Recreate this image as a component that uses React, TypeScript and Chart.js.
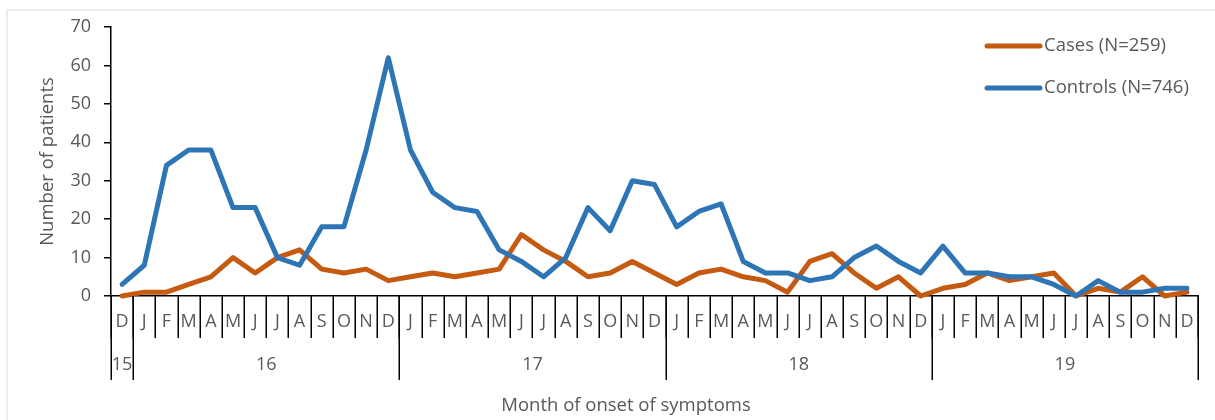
import React, { useEffect, useRef } from 'react';
import { Chart, registerables } from 'chart.js';

Chart.register(...registerables);

const monthLabels = [
  'D',
  'J', 'F', 'M', 'A', 'M', 'J', 'J', 'A', 'S', 'O', 'N', 'D',
  'J', 'F', 'M', 'A', 'M', 'J', 'J', 'A', 'S', 'O', 'N', 'D',
  'J', 'F', 'M', 'A', 'M', 'J', 'J', 'A', 'S', 'O', 'N', 'D',
  'J', 'F', 'M', 'A', 'M', 'J', 'J', 'A', 'S', 'O', 'N', 'D',
];

const yearLabels = ['15', '16', '17', '18', '19'];
const yearMonthCounts = [1, 12, 12, 12, 12];

const casesValues = [
  0,
  1, 1, 3, 5, 10, 6, 10, 12, 7, 6, 7, 4,
  5, 6, 5, 6, 7, 16, 12, 9, 5, 6, 9, 6,
  3, 6, 7, 5, 4, 1, 9, 11, 6, 2, 5, 0,
  2, 3, 6, 4, 5, 6, 0, 2, 1, 5, 0, 1,
];

const controlsValues = [
  3,
  8, 34, 38, 38, 23, 23, 10, 8, 18, 18, 38, 62,
  38, 27, 23, 22, 12, 9, 5, 10, 23, 17, 30, 29,
  18, 22, 24, 9, 6, 6, 4, 5, 10, 13, 9, 6,
  13, 6, 6, 5, 5, 3, 0, 4, 1, 1, 2, 2,
];

const seriesNames = ['Cases (N=259)', 'Controls (N=746)'];
const seriesColors = ['#C55A11', '#2E75B6'];

const FONT = '"Open Sans", "Noto Sans", sans-serif';
const TEXT_COLOR = '#595959';

const decorPlugin = {
  id: 'decor',
  beforeDraw(chart: any) {
    const ctx = chart.ctx;
    ctx.save();
    ctx.fillStyle = '#ffffff';
    ctx.fillRect(0, 0, chart.width, chart.height);
    ctx.strokeStyle = '#ececec';
    ctx.lineWidth = 2;
    ctx.strokeRect(7, 10, chart.width + 20, chart.height + 20);
    ctx.restore();
  },
  afterDraw(chart: any) {
    const ctx = chart.ctx;
    const xa = chart.scales.x;
    const area = chart.chartArea;
    const n = monthLabels.length;
    const w = (xa.right - xa.left) / n;
    const y0 = area.bottom;
    const boundary = (i: number) =>
      i < n ? xa.getPixelForValue(i) - w / 2 : xa.getPixelForValue(n - 1) + w / 2;

    ctx.save();
    ctx.strokeStyle = '#000000';
    ctx.lineWidth = 1.5;
    // month separators
    for (let i = 0; i <= n; i++) {
      const bx = Math.round(boundary(i)) + 0.25;
      ctx.beginPath();
      ctx.moveTo(bx, y0);
      ctx.lineTo(bx, y0 + 42);
      ctx.stroke();
    }
    // month labels
    ctx.fillStyle = TEXT_COLOR;
    ctx.font = `18px ${FONT}`;
    ctx.textAlign = 'center';
    ctx.textBaseline = 'middle';
    for (let i = 0; i < n; i++) {
      ctx.fillText(monthLabels[i], xa.getPixelForValue(i), y0 + 26);
    }
    // year separators and labels
    let idx = 0;
    const yb = [0];
    for (let k = 0; k < yearMonthCounts.length; k++) {
      idx += yearMonthCounts[k];
      yb.push(idx);
    }
    for (const b of yb) {
      const bx = Math.round(boundary(b)) + 0.25;
      ctx.beginPath();
      ctx.moveTo(bx, y0);
      ctx.lineTo(bx, y0 + 84);
      ctx.stroke();
    }
    ctx.font = `18px ${FONT}`;
    for (let k = 0; k < yearLabels.length; k++) {
      const cx = (boundary(yb[k]) + boundary(yb[k + 1])) / 2;
      ctx.fillText(yearLabels[k], cx, y0 + 69);
    }
    // x axis title
    ctx.font = `18.5px ${FONT}`;
    ctx.fillText('Month of onset of symptoms', 626, 406);
    // y axis title
    ctx.save();
    ctx.translate(48, (area.top + area.bottom) / 2);
    ctx.rotate(-Math.PI / 2);
    ctx.fillText('Number of patients', 0, 0);
    ctx.restore();
    // legend
    const legendY = [46, 88];
    for (let s = 0; s < seriesNames.length; s++) {
      ctx.strokeStyle = seriesColors[s];
      ctx.lineWidth = 5;
      ctx.lineCap = 'round';
      ctx.beginPath();
      ctx.moveTo(987, legendY[s]);
      ctx.lineTo(1040, legendY[s]);
      ctx.stroke();
      ctx.fillStyle = TEXT_COLOR;
      ctx.font = `18.5px ${FONT}`;
      ctx.textAlign = 'left';
      ctx.fillText(seriesNames[s], 1044, legendY[s]);
    }
    ctx.restore();
  },
};

export default function App() {
  const canvasRef = useRef<HTMLCanvasElement | null>(null);

  useEffect(() => {
    const canvas = canvasRef.current;
    if (!canvas) return;
    const chart = new Chart(canvas, {
      type: 'line',
      data: {
        labels: monthLabels,
        datasets: [
          {
            label: seriesNames[1],
            data: controlsValues,
            borderColor: seriesColors[1],
            backgroundColor: seriesColors[1],
            borderWidth: 5,
            pointRadius: 0,
            tension: 0,
            borderJoinStyle: 'round',
            borderCapStyle: 'round',
            clip: false,
          },
          {
            label: seriesNames[0],
            data: casesValues,
            borderColor: seriesColors[0],
            backgroundColor: seriesColors[0],
            borderWidth: 5,
            pointRadius: 0,
            tension: 0,
            borderJoinStyle: 'round',
            borderCapStyle: 'round',
            clip: false,
          },
        ],
      },
      options: {
        responsive: false,
        animation: false,
        events: [],
        layout: { padding: { top: 27, right: 17, left: 0, bottom: 0 } },
        plugins: {
          legend: { display: false },
          tooltip: { enabled: false },
          title: { display: false },
        },
        scales: {
          x: {
            type: 'category',
            offset: true,
            ticks: { display: false },
            grid: { display: false, drawTicks: false },
            border: { display: true, color: '#000000', width: 1.5 },
            afterFit: (scale: any) => {
              scale.height = 124;
            },
          },
          y: {
            min: 0,
            max: 70,
            ticks: {
              stepSize: 10,
              color: TEXT_COLOR,
              font: { family: FONT, size: 18 },
              padding: 13,
            },
            grid: {
              drawOnChartArea: false,
              drawTicks: true,
              tickLength: 7,
              color: '#000000',
              lineWidth: 1.5,
            },
            border: { display: true, color: '#000000', width: 1.5 },
            afterFit: (scale: any) => {
              scale.width = 111;
            },
          },
        },
      },
      plugins: [decorPlugin],
    } as any);
    return () => chart.destroy();
  }, []);

  return (
    <div style={{ position: 'fixed', left: 0, top: 0, width: 1215, height: 420, background: '#fff' }}>
      <canvas ref={canvasRef} width={1215} height={420} style={{ display: 'block' }} />
    </div>
  );
}
